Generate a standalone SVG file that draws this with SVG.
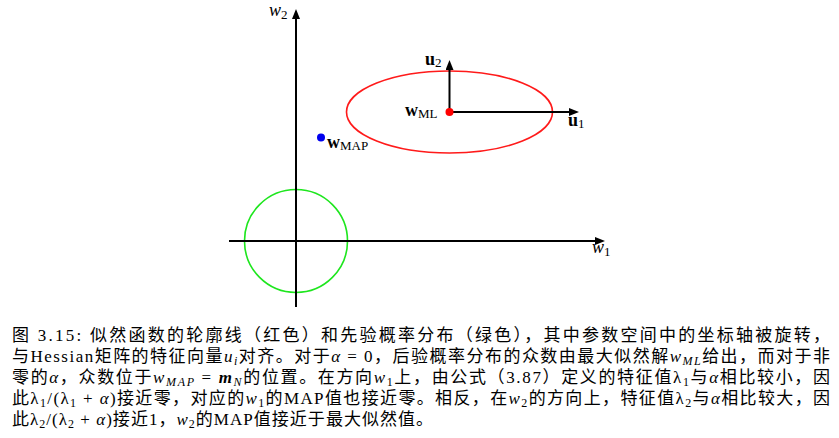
<svg xmlns="http://www.w3.org/2000/svg" width="839" height="438" viewBox="0 0 839 438">
<style>
.ax{stroke:#000;stroke-width:2;fill:none}
.lbl{font-family:'Liberation Serif','Noto Sans CJK SC',serif;font-size:18px;fill:#000}
.it{font-style:italic}
.bd{font-weight:bold}
.sub{font-size:13px}
.cap{font-family:'Liberation Serif','Noto Sans CJK SC',serif;font-size:17px;fill:#000}
.m{font-style:italic}
.cs{font-size:12px}
</style>
<defs>
<marker id="ah" markerUnits="userSpaceOnUse" markerWidth="10" markerHeight="8" refX="0" refY="4" orient="auto" viewBox="0 0 10 8">
<path d="M0,0 L10,4 L0,8 z" fill="#000"/>
</marker>
</defs>
<rect width="839" height="438" fill="#fff"/>
<g id="prior">
<circle cx="296" cy="241" r="51.5" fill="none" stroke="#1ee61e" stroke-width="1.6"/>
</g>
<g id="likelihood">
<ellipse cx="449.5" cy="112" rx="103" ry="41" fill="none" stroke="#ff1a1a" stroke-width="1.6"/>
</g>
<g id="connectors">
<line class="ax" x1="296" y1="307" x2="296" y2="19" marker-end="url(#ah)"/>
<line class="ax" x1="229" y1="241" x2="595" y2="241" marker-end="url(#ah)"/>
<line class="ax" x1="449.5" y1="112" x2="449.5" y2="70" marker-end="url(#ah)"/>
<line class="ax" x1="449.5" y1="112" x2="569" y2="112" marker-end="url(#ah)"/>
</g>
<g id="wML">
<circle cx="449.5" cy="112" r="4" fill="#ff0000"/>
<text class="lbl" x="405" y="116"><tspan class="bd">w</tspan><tspan class="sub" dy="2">ML</tspan></text>
</g>
<g id="wMAP">
<circle cx="321" cy="137.5" r="4" fill="#0000ee"/>
<text class="lbl" x="327" y="148"><tspan class="bd">w</tspan><tspan class="sub" dy="2">MAP</tspan></text>
</g>
<g id="label-w2"><text class="lbl" x="269" y="16"><tspan class="it">w</tspan><tspan class="sub" dy="3">2</tspan></text></g>
<g id="label-w1"><text class="lbl" x="592" y="253"><tspan class="it">w</tspan><tspan class="sub" dy="3">1</tspan></text></g>
<g id="label-u2"><text class="lbl" x="425" y="65"><tspan class="bd">u</tspan><tspan class="sub" dy="2">2</tspan></text></g>
<g id="label-u1"><text class="lbl" x="568" y="126"><tspan class="bd">u</tspan><tspan class="sub" dy="2">1</tspan></text></g>
<g id="caption">
<text class="cap" x="12" y="340.5" textLength="818" lengthAdjust="spacing">图 3.15: 似然函数的轮廓线（红色）和先验概率分布（绿色），其中参数空间中的坐标轴被旋转，</text>
<text class="cap" x="12" y="361.5" textLength="818" lengthAdjust="spacing">与Hessian矩阵的特征向量<tspan class="m">u</tspan><tspan class="cs m" dy="3">i</tspan><tspan dy="-3">对齐。对于</tspan><tspan class="m">α</tspan> = 0，后验概率分布的众数由最大似然解<tspan class="m">w</tspan><tspan class="cs m" dy="3">ML</tspan><tspan dy="-3">给出，而对于非</tspan></text>
<text class="cap" x="12" y="382.5" textLength="818" lengthAdjust="spacing">零的<tspan class="m">α</tspan>，众数位于<tspan class="m">w</tspan><tspan class="cs m" dy="3">MAP</tspan><tspan dy="-3"> = </tspan><tspan class="m bd">m</tspan><tspan class="cs m" dy="3">N</tspan><tspan dy="-3">的位置。在方向</tspan><tspan class="m">w</tspan><tspan class="cs" dy="3">1</tspan><tspan dy="-3">上，由公式（3.87）定义的特征值λ</tspan><tspan class="cs" dy="3">1</tspan><tspan dy="-3">与</tspan><tspan class="m">α</tspan>相比较小，因</text>
<text class="cap" x="12" y="403.5" textLength="818" lengthAdjust="spacing">此λ<tspan class="cs" dy="3">1</tspan><tspan dy="-3">/(λ</tspan><tspan class="cs" dy="3">1</tspan><tspan dy="-3"> + </tspan><tspan class="m">α</tspan>)接近零，对应的<tspan class="m">w</tspan><tspan class="cs" dy="3">1</tspan><tspan dy="-3">的MAP值也接近零。相反，在</tspan><tspan class="m">w</tspan><tspan class="cs" dy="3">2</tspan><tspan dy="-3">的方向上，特征值λ</tspan><tspan class="cs" dy="3">2</tspan><tspan dy="-3">与</tspan><tspan class="m">α</tspan>相比较大，因</text>
<text class="cap" x="12" y="424.5" textLength="421" lengthAdjust="spacing">此λ<tspan class="cs" dy="3">2</tspan><tspan dy="-3">/(λ</tspan><tspan class="cs" dy="3">2</tspan><tspan dy="-3"> + </tspan><tspan class="m">α</tspan>)接近1，<tspan class="m">w</tspan><tspan class="cs" dy="3">2</tspan><tspan dy="-3">的MAP值接近于最大似然值。</tspan></text>
</g>
</svg>
